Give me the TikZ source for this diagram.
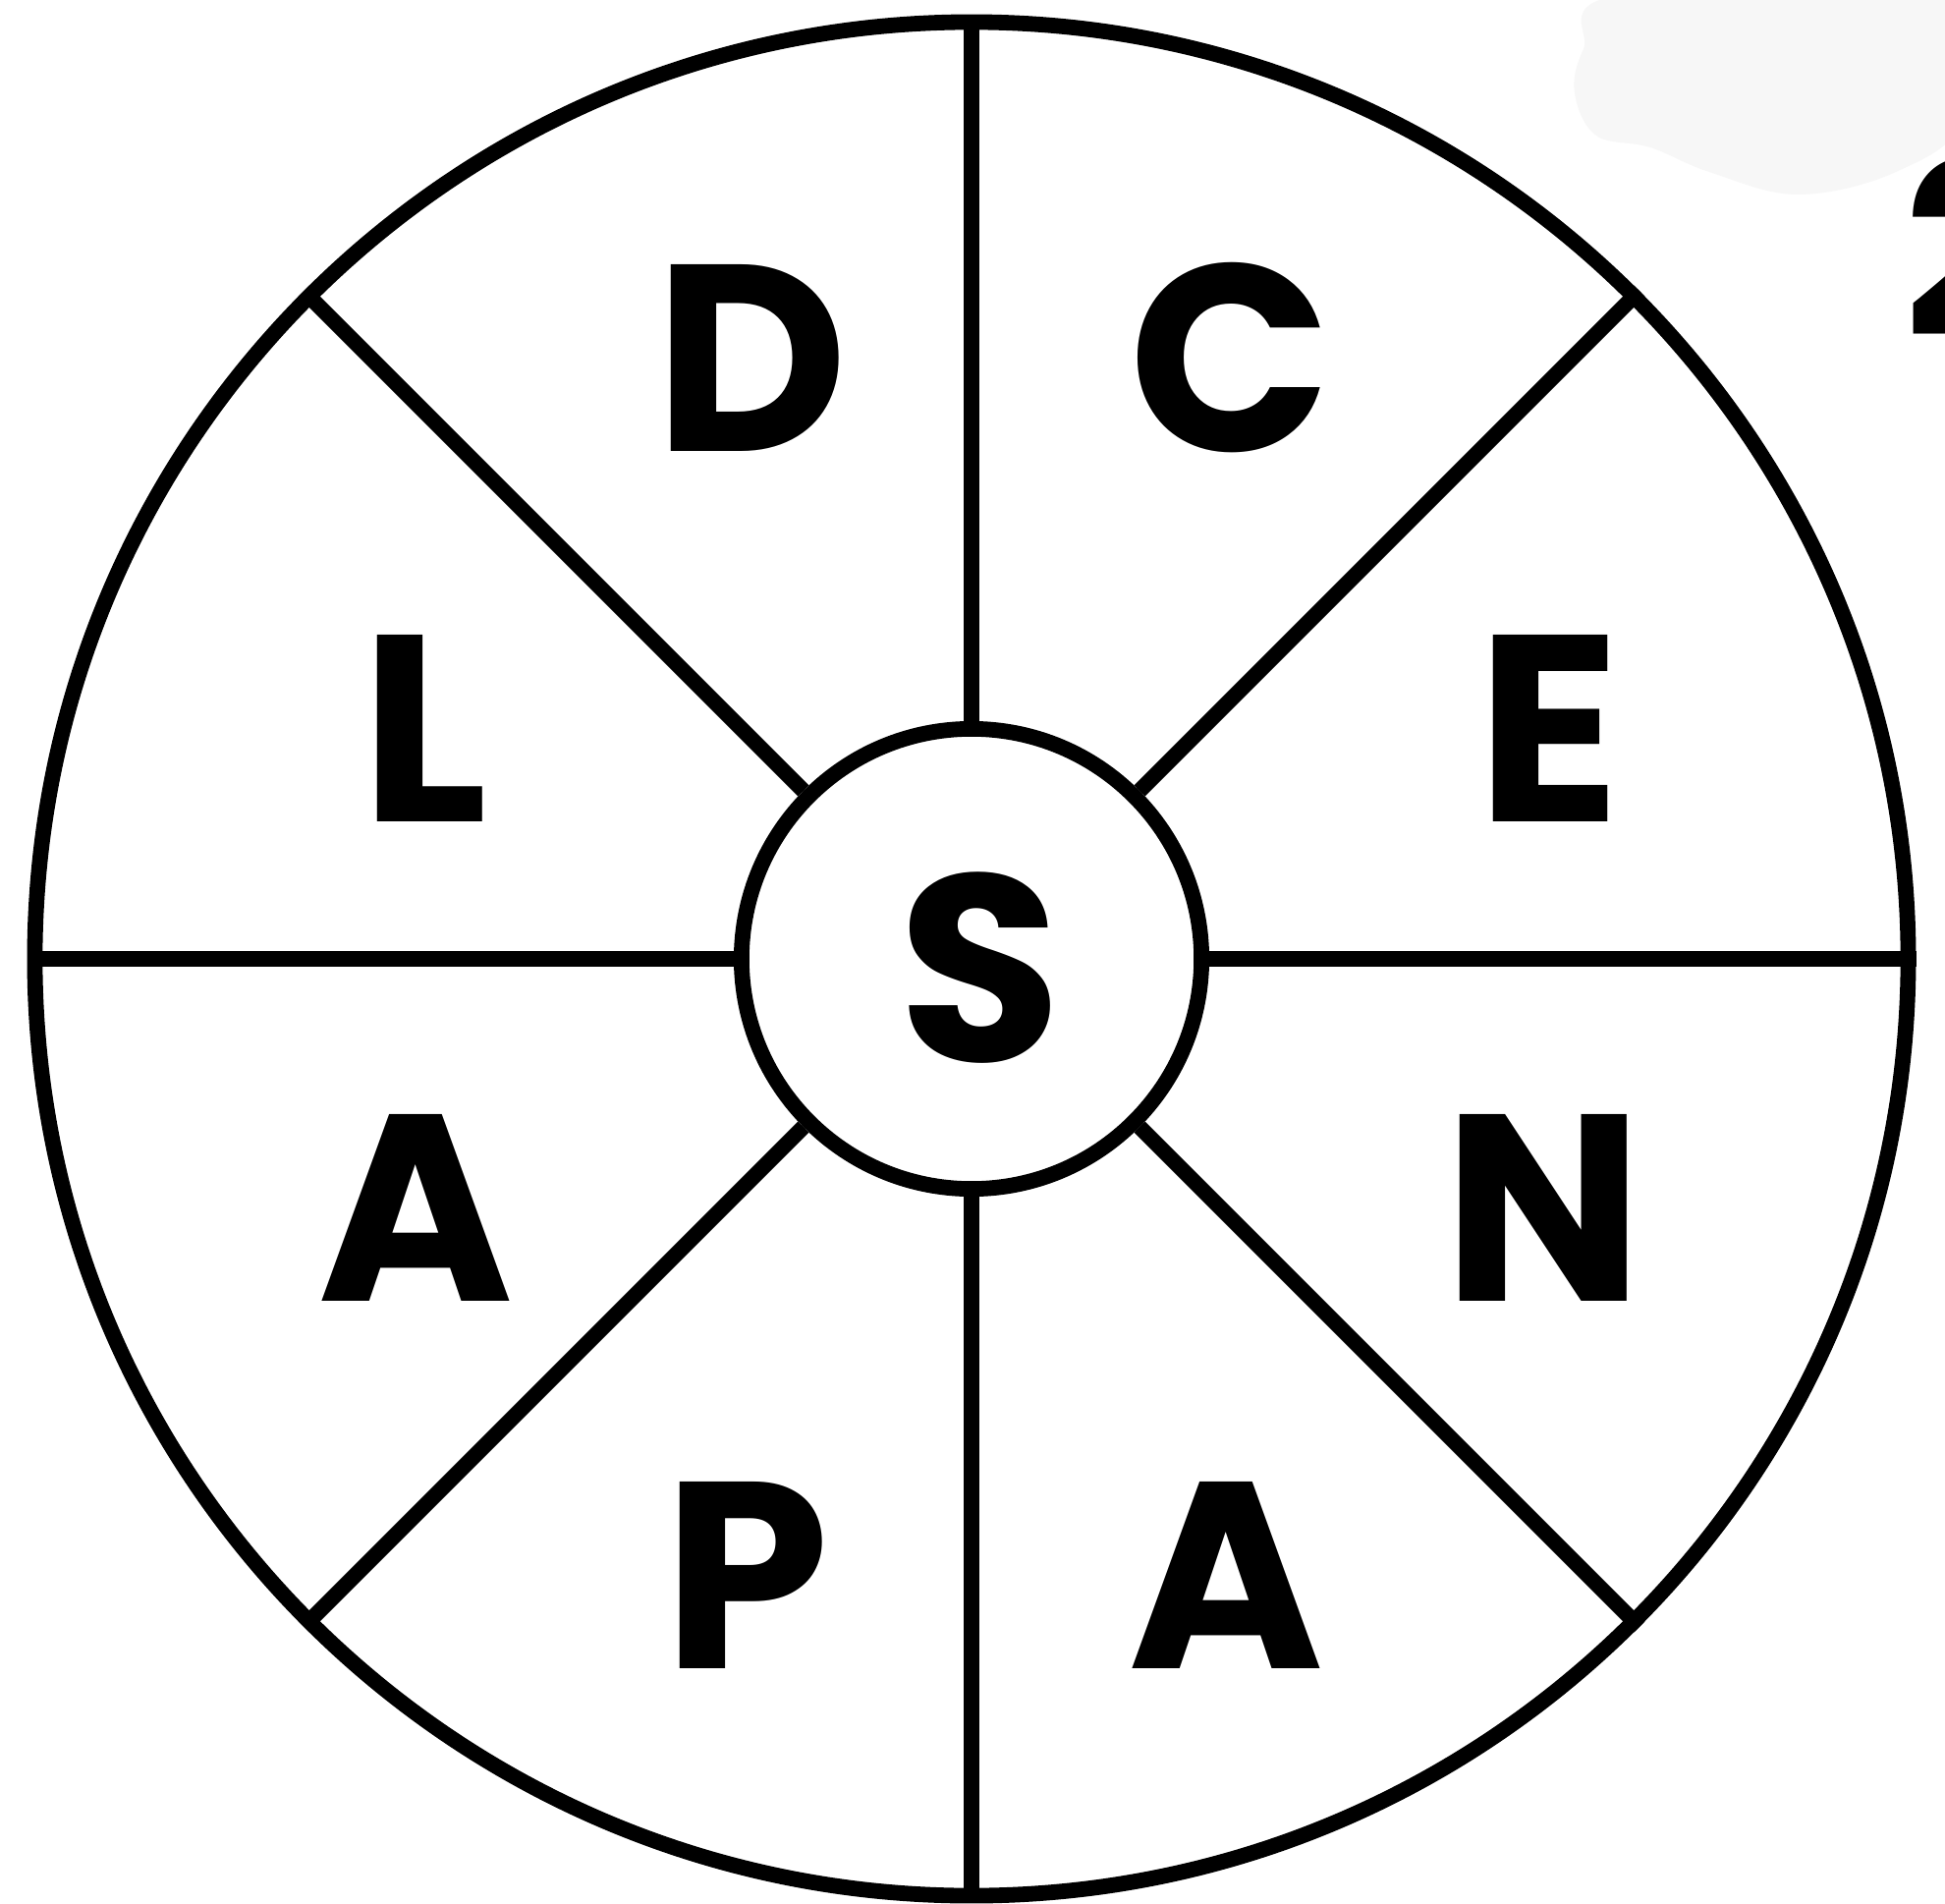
\documentclass[tikz,border=0pt]{standalone}
\usepackage{fontspec}
\setmainfont{Poppins}[UprightFont=* Bold]
\begin{document}
\begin{tikzpicture}[x=0.01cm,y=-0.01cm,
  ring/.style={draw=black,line width=4.5pt},
  spoke/.style={draw=black,line width=4.5pt},
  letter/.style={inner sep=0pt,font=\fontsize{77}{77}\selectfont}]
\useasboundingbox (0,0) rectangle (1980,1937);
\clip (0,0) rectangle (1980,1937);
\fill[white] (0,0) rectangle (1980,1937);
% light grey blob top right
\fill[black!3] plot[smooth cycle,tension=0.6] coordinates {(1650,-5) (1612,50) (1603,95) (1625,138) (1680,150) (1740,175) (1830,198) (1930,175) (2000,120) (2000,-5)};
\node[letter,anchor=base west,font=\fontsize{70}{70}\selectfont] (two) at (1938,343) {2};
% wheel
\coordinate (c) at (989,976);
\node[ring,circle,minimum size=19.06cm,inner sep=0pt] (outer) at (c) {};
\node[ring,circle,minimum size=4.68cm,inner sep=0pt,fill=white] (inner) at (c) {};
\foreach \a in {0,45,...,315}{
  \draw[spoke] (inner.\a) -- (outer.\a);
}
\node[letter] (S) at (998,985) {S};
\node[letter] (D) at (765,364) {D};
\node[letter] (C) at (1253,364) {C};
\node[letter] (L) at (432,741) {L};
\node[letter] (E) at (1577,741) {E};
\node[letter] (A1) at (423,1229) {A};
\node[letter] (N) at (1571,1229) {N};
\node[letter] (P) at (760,1603) {P};
\node[letter] (A2) at (1248,1603) {A};
\end{tikzpicture}
\end{document}
